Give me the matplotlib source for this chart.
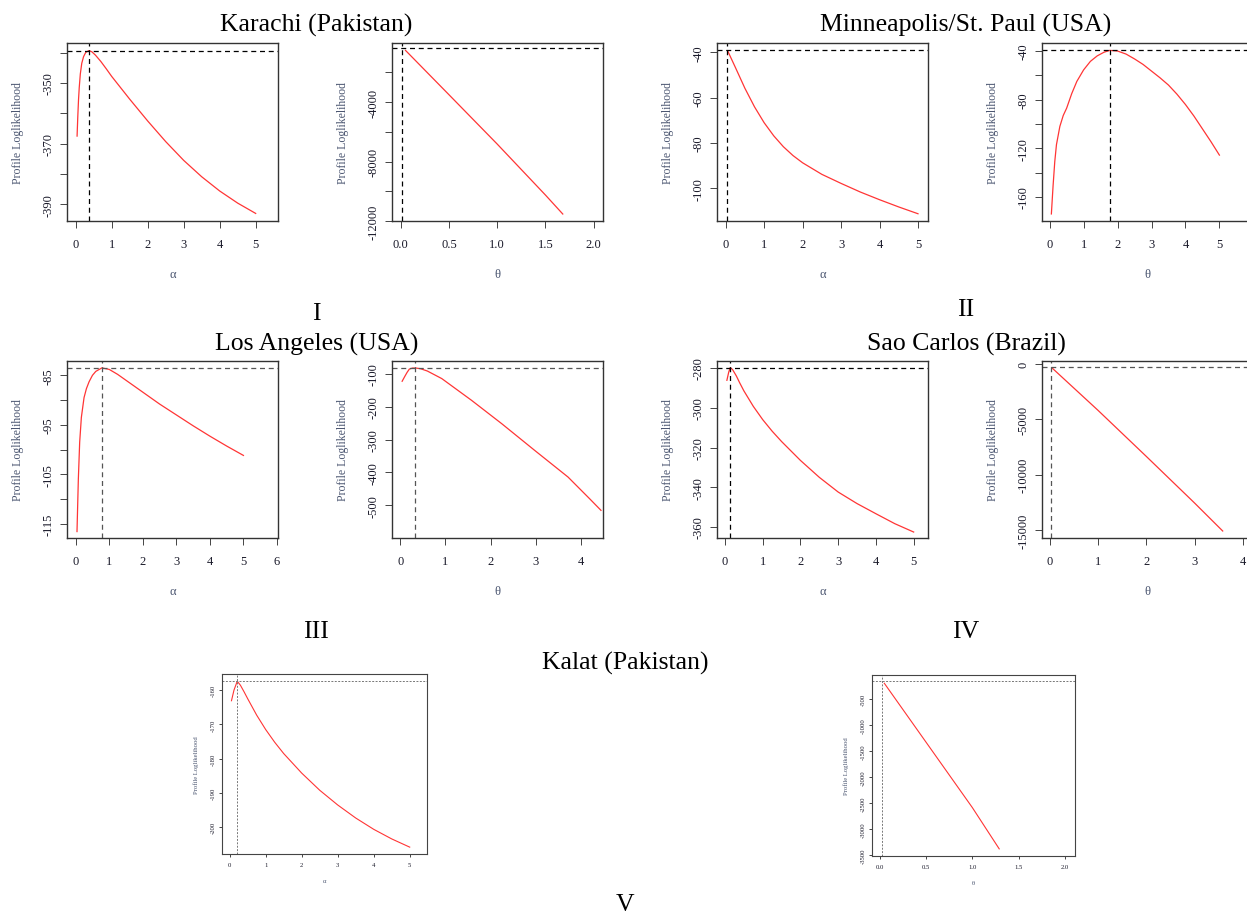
import matplotlib
matplotlib.use("Agg")
import matplotlib.pyplot as plt

plt.rcParams['font.family'] = ['Liberation Serif', 'DejaVu Serif']

W, H = 1247, 920

# ---- data ----
# Karachi (Pakistan)
kar_alpha = [0.04, 0.06, 0.08, 0.1, 0.13, 0.17, 0.22, 0.28, 0.37, 0.45, 0.55, 0.7, 0.85,
             1, 1.5, 2, 2.5, 3, 3.5, 4, 4.5, 5]
kar_alpha_ll = [-367.5, -361, -355.5, -351.5, -347, -343.5, -341.3, -339.9, -339.3, -339.7,
                -340.8, -342.9, -345.3, -347.8, -355.3, -362.5, -369.3, -375.5, -380.9,
                -385.6, -389.6, -393]
kar_theta = [0.05, 0.5, 1.0, 1.5, 1.68]
kar_theta_ll = [-520, -3500, -6820, -10250, -11530]
kar_mle = (0.37, -339.4, 0.01, -360)

# Minneapolis/St. Paul (USA)
min_alpha = [0.05, 0.25, 0.5, 0.75, 1.0, 1.25, 1.5, 1.75, 2, 2.5, 3, 3.5, 4, 4.5, 5]
min_alpha_ll = [-39.2, -46.5, -55.8, -64.0, -71.0, -76.8, -81.6, -85.5, -88.7, -93.8,
                -97.8, -101.6, -105.0, -108.2, -111.2]
min_theta = [0.05, 0.1, 0.15, 0.2, 0.3, 0.4, 0.5, 0.65, 0.8, 1.0, 1.2, 1.4, 1.6, 1.77,
             2.0, 2.25, 2.5, 2.75, 3, 3.25, 3.5, 3.75, 4, 4.25, 4.5, 4.75, 5]
min_theta_ll = [-174, -151, -131, -117, -102, -93, -87, -75, -65, -55.5, -48.5, -44,
                -41, -39.45, -40, -42.5, -46.5, -51, -56.5, -62, -68, -75.5, -84,
                -93.5, -104, -114.5, -125.6]
min_mle = (0.03, -38.8, 1.77, -39.45)

# Los Angeles (USA)
la_alpha = [0.04, 0.08, 0.12, 0.17, 0.25, 0.32, 0.4, 0.5, 0.6, 0.78, 1, 1.25, 1.5, 1.75,
            2, 2.5, 3, 3.5, 4, 4.5, 5]
la_alpha_ll = [-116.6, -106, -98.5, -93.5, -89.5, -87.7, -86.3, -85, -84.2, -83.5, -83.8,
               -84.8, -86, -87.2, -88.4, -90.8, -93, -95.2, -97.3, -99.3, -101.2]
la_theta = [0.04, 0.1, 0.15, 0.2, 0.27, 0.35, 0.45, 0.6, 0.92, 1.58, 2.25, 2.98, 3.72,
            4.2, 4.45]
la_theta_ll = [-123, -108, -96, -86, -83, -83, -85, -92, -115, -181, -252, -333, -414,
               -480, -515]
la_mle = (0.785, -83.5, 0.32, -82.8)

# Sao Carlos (Brazil)
sc_alpha = [0.05, 0.1, 0.14, 0.2, 0.3, 0.39, 0.5, 0.75, 1, 1.25, 1.5, 2, 2.5, 3, 3.5, 4,
            4.5, 5]
sc_alpha_ll = [-286.2, -282, -279.8, -280.8, -284, -287.5, -291.5, -299.3, -306, -311.8,
               -317, -326.5, -335, -342.4, -348.2, -353.3, -358.3, -362.5]
sc_theta = [0.05, 1.0, 2.0, 3.0, 3.58]
sc_theta_ll = [-390, -4200, -8350, -12550, -15060]
sc_mle = (0.14, -279.8, 0.02, -300)

# Kalat (Pakistan)
kal_alpha = [0.05, 0.12, 0.21, 0.3, 0.4, 0.5, 0.75, 1, 1.25, 1.5, 2, 2.5, 3, 3.5, 4,
             4.5, 5]
kal_alpha_ll = [-163.1, -160, -157.4, -158.6, -160.5, -162.5, -167.3, -171.5, -175.2,
                -178.5, -184.2, -189.2, -193.5, -197.3, -200.6, -203.4, -205.8]
kal_theta = [0.05, 1.0, 1.29]
kal_theta_ll = [-193, -2580, -3373]
kal_mle = (0.21, -157.4, 0.025, -155)

# tick labels
ticks_0_5 = [0, 1, 2, 3, 4, 5]
ticks_0_6 = [0, 1, 2, 3, 4, 5, 6]
ticks_0_4 = [0, 1, 2, 3, 4]
ticks_half = [0, 0.5, 1.0, 1.5, 2.0]
labels_half = ['0.0', '0.5', '1.0', '1.5', '2.0']

kar_a_yt = [-340, -350, -360, -370, -380, -390]
kar_a_yl = ['', '-350', '', '-370', '', '-390']
kar_t_yt = [-2000, -4000, -6000, -8000, -10000, -12000]
kar_t_yl = ['', '-4000', '', '-8000', '', '-12000']
min_a_yt = [-40, -60, -80, -100]
min_a_yl = ['-40', '-60', '-80', '-100']
min_t_yt = [-40, -60, -80, -100, -120, -140, -160]
min_t_yl = ['-40', '', '-80', '', '-120', '', '-160']
la_a_yt = [-85, -90, -95, -100, -105, -110, -115]
la_a_yl = ['-85', '', '-95', '', '-105', '', '-115']
la_t_yt = [-100, -200, -300, -400, -500]
la_t_yl = ['-100', '-200', '-300', '-400', '-500']
sc_a_yt = [-280, -300, -320, -340, -360]
sc_a_yl = ['-280', '-300', '-320', '-340', '-360']
sc_t_yt = [0, -5000, -10000, -15000]
sc_t_yl = ['0', '-5000', '-10000', '-15000']
kal_a_yt = [-160, -170, -180, -190, -200]
kal_a_yl = ['-160', '-170', '-180', '-190', '-200']
kal_t_yt = [-500, -1000, -1500, -2000, -2500, -3000, -3500]
kal_t_yl = ['-500', '-1000', '-1500', '-2000', '-2500', '-3000', '-3500']

fig = plt.figure(figsize=(W / 100, H / 100), dpi=100)


def panel(box, x, y, xlim, ylim, xt, xtl, yt, ytl, xname, mx, my,
          small=False, dcol='black', dls=(0, (4, 3))):
    left, top, right, bottom = box
    ax = fig.add_axes([left / W, 1 - bottom / H, (right - left) / W, (bottom - top) / H])
    ax.plot(x, y, color='#ff3535', lw=0.9 if not small else 0.8)
    ax.axhline(my, color=dcol, lw=0.9 if not small else 0.7, ls=dls)
    ax.axvline(mx, color=dcol, lw=0.9 if not small else 0.7, ls=dls)
    ax.set_xlim(*xlim)
    ax.set_ylim(*ylim)
    fs = 4.8 if small else 9
    ax.set_xticks(xt)
    ax.set_xticklabels(xtl if xtl is not None else [str(v) for v in xt], fontsize=fs)
    ax.set_yticks(yt)
    ax.set_yticklabels(ytl, fontsize=fs, rotation=90, va='center')
    ax.tick_params(direction='out', length=2.2 if small else 5, width=0.7,
                   color='#444444', labelcolor='#1a1a2a',
                   pad=2 if small else 4)
    ax.tick_params(axis='x', pad=3.5 if small else 7)
    for s in ax.spines.values():
        s.set_color('#444444' if small else '#333333')
        s.set_linewidth(0.8 if small else 1.0)
    w = right - left
    h = bottom - top
    if small:
        ax.text(-26 / w, 0.5, 'Profile Loglikelihood', rotation=90, fontsize=4.8,
                color='#4a5570', ha='center', va='center', transform=ax.transAxes)
        ax.text(0.5, -27 / h, xname, fontsize=4.8, color='#4a5570',
                ha='center', va='center', transform=ax.transAxes)
    else:
        ax.text(-49 / w, 0.5, 'Profile Loglikelihood', rotation=90, fontsize=8.5,
                color='#4a5570', ha='center', va='center', transform=ax.transAxes)
        ax.text(0.5, -53 / h, xname, fontsize=9, color='#4a5570',
                ha='center', va='center', transform=ax.transAxes)
    return ax


# row 1
panel((67, 44, 278, 222), kar_alpha, kar_alpha_ll, (-0.24, 5.62), (-395.5, -336.8),
      ticks_0_5, None, kar_a_yt, kar_a_yl, 'α', kar_mle[0], kar_mle[1])
panel((392, 44, 603, 222), kar_theta, kar_theta_ll, (-0.09, 2.097), (-11980, -23),
      ticks_half, labels_half, kar_t_yt, kar_t_yl, 'θ', kar_mle[2], kar_mle[3])
panel((717, 43.5, 928, 222), min_alpha, min_alpha_ll, (-0.225, 5.26), (-114.4, -35.6),
      ticks_0_5, None, min_a_yt, min_a_yl, 'α', min_mle[0], min_mle[1])
panel((1042, 44, 1253, 222), min_theta, min_theta_ll, (-0.226, 5.99), (-179.8, -33.4),
      ticks_0_5, None, min_t_yt, min_t_yl, 'θ', min_mle[2], min_mle[3])

# row 2
panel((67, 362, 278, 539), la_alpha, la_alpha_ll, (-0.258, 6.03), (-117.9, -82.1),
      ticks_0_6, None, la_a_yt, la_a_yl, 'α', la_mle[0], la_mle[1],
      dcol='#555555', dls=(0, (4, 3)))
panel((392, 362, 603, 539), la_theta, la_theta_ll, (-0.185, 4.495), (-599, -61.5),
      ticks_0_4, None, la_t_yt, la_t_yl, 'θ', la_mle[2], la_mle[3],
      dcol='#555555', dls=(0, (4, 3)))
panel((717, 362, 928, 539), sc_alpha, sc_alpha_ll, (-0.212, 5.38), (-365.5, -276.5),
      ticks_0_5, None, sc_a_yt, sc_a_yl, 'α', sc_mle[0], sc_mle[1])
panel((1042, 362, 1253, 539), sc_theta, sc_theta_ll, (-0.159, 4.207), (-15690, 240),
      ticks_0_4, None, sc_t_yt, sc_t_yl, 'θ', sc_mle[2], sc_mle[3],
      dcol='#555555', dls=(0, (4, 3)))

# row 3
panel((222, 675, 427, 855), kal_alpha, kal_alpha_ll, (-0.213, 5.48), (-207.8, -155.3),
      ticks_0_5, None, kal_a_yt, kal_a_yl, 'α', kal_mle[0], kal_mle[1],
      small=True, dcol='#777777', dls=(0, (2, 1.5)))
panel((872, 676, 1075, 857), kal_theta, kal_theta_ll, (-0.083, 2.108), (-3510, -34),
      ticks_half, labels_half, kal_t_yt, kal_t_yl, 'θ', kal_mle[2], kal_mle[3],
      small=True, dcol='#777777', dls=(0, (2, 1.5)))


# titles and roman numerals
def ftext(x, y, s, size=18.5):
    fig.text(x / W, 1 - y / H, s, fontsize=size, ha='center', va='center', color='black')


ftext(316, 25, 'Karachi (Pakistan)')
ftext(966, 25, 'Minneapolis/St. Paul (USA)')
ftext(316, 314, 'I')
ftext(966, 310, 'II')
ftext(317, 344, 'Los Angeles (USA)')
ftext(966, 344, 'Sao Carlos (Brazil)')
ftext(316, 632, 'III')
ftext(966, 632, 'IV')
ftext(625, 663, 'Kalat (Pakistan)')
ftext(625, 905, 'V')

fig.savefig('out.png', dpi=100)
